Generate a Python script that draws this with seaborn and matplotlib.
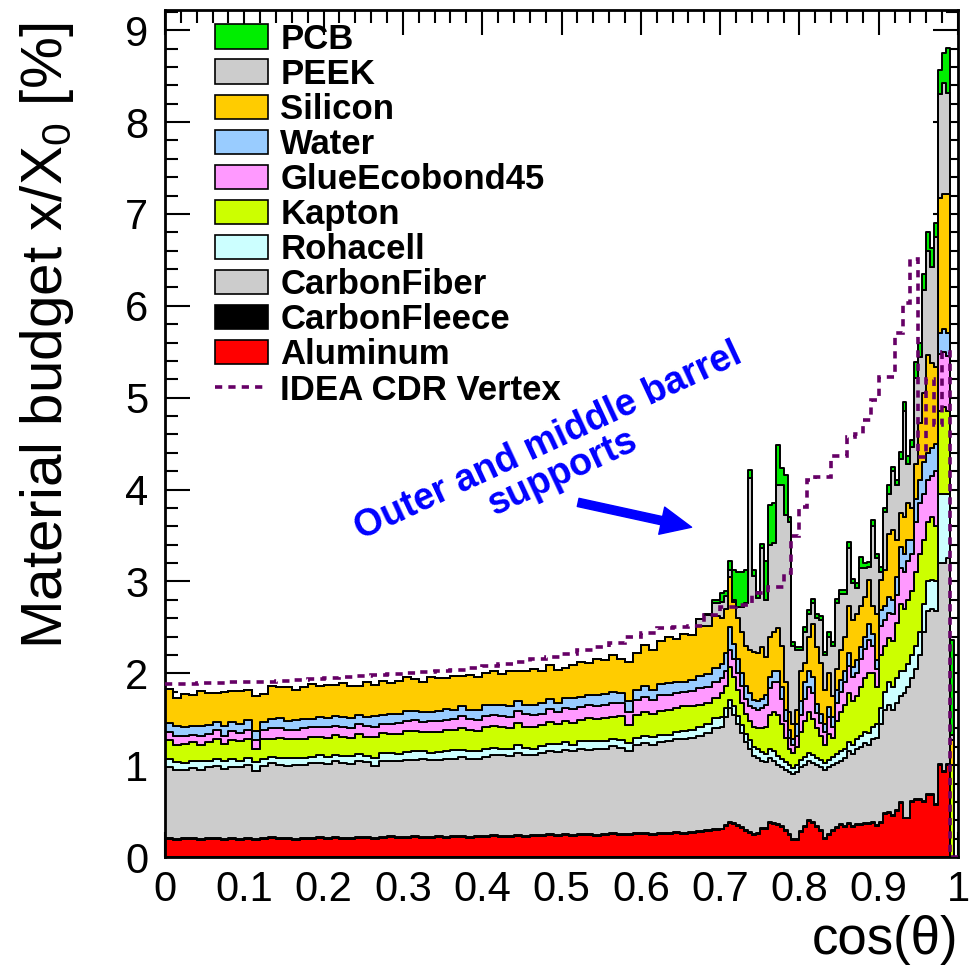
import numpy as np
import pandas as pd
import matplotlib
matplotlib.use("Agg")
import matplotlib.pyplot as plt
import seaborn as sns
from matplotlib.patches import Patch
from matplotlib.lines import Line2D
from matplotlib.ticker import MultipleLocator, FuncFormatter

sns.set_theme(style="ticks")
plt.rcParams['font.family'] = ['Liberation Sans', 'DejaVu Sans']
plt.rcParams['mathtext.default'] = 'regular'
for key in ['text.color', 'axes.labelcolor', 'xtick.color', 'ytick.color', 'axes.edgecolor']:
    plt.rcParams[key] = 'black'

# bins: 0.01 wide up to cos=0.70, 0.005 wide above
edges = np.concatenate([np.linspace(0.0, 0.70, 71)[:-1], np.linspace(0.70, 1.0, 61)])
centers = 0.5 * (edges[:-1] + edges[1:])

# material budget per material (x/X0 in %), one value per bin
aluminum = [
    0.20, 0.19, 0.20, 0.20, 0.19, 0.20, 0.20, 0.19, 0.20, 0.19,
    0.20, 0.19, 0.20, 0.21, 0.20, 0.20, 0.19, 0.20, 0.20, 0.21,
    0.20, 0.21, 0.20, 0.20, 0.21, 0.21, 0.20, 0.21, 0.22, 0.21,
    0.21, 0.22, 0.21, 0.21, 0.22, 0.21, 0.22, 0.22, 0.21, 0.22,
    0.22, 0.23, 0.22, 0.22, 0.23, 0.22, 0.23, 0.23, 0.24, 0.23,
    0.24, 0.23, 0.24, 0.24, 0.23, 0.24, 0.25, 0.24, 0.24, 0.25,
    0.25, 0.24, 0.25, 0.25, 0.26, 0.25, 0.26, 0.27, 0.28, 0.29,
    0.30, 0.34, 0.37, 0.36, 0.34, 0.32, 0.28, 0.26, 0.24, 0.25,
    0.31, 0.31, 0.37, 0.36, 0.35, 0.33, 0.28, 0.24, 0.19, 0.19,
    0.27, 0.33, 0.39, 0.37, 0.33, 0.28, 0.20, 0.24, 0.28, 0.32,
    0.35, 0.33, 0.36, 0.33, 0.35, 0.35, 0.36, 0.36, 0.37, 0.34,
    0.37, 0.47, 0.48, 0.45, 0.50, 0.59, 0.42, 0.42, 0.60, 0.62,
    0.62, 0.60, 0.68, 0.68, 0.57, 1.00, 0.93, 1.00, 0.00, 0.00,
]
carbon_fleece = [
    0.01, 0.01, 0.01, 0.01, 0.01, 0.01, 0.01, 0.01, 0.01, 0.01,
    0.01, 0.01, 0.01, 0.01, 0.01, 0.01, 0.01, 0.01, 0.01, 0.01,
    0.01, 0.01, 0.01, 0.01, 0.01, 0.01, 0.01, 0.01, 0.01, 0.01,
    0.01, 0.01, 0.01, 0.01, 0.01, 0.01, 0.01, 0.01, 0.01, 0.01,
    0.01, 0.01, 0.01, 0.01, 0.01, 0.01, 0.01, 0.01, 0.01, 0.01,
    0.01, 0.01, 0.01, 0.01, 0.01, 0.01, 0.01, 0.01, 0.01, 0.01,
    0.01, 0.01, 0.01, 0.01, 0.01, 0.01, 0.01, 0.01, 0.01, 0.01,
    0.01, 0.01, 0.01, 0.01, 0.01, 0.01, 0.01, 0.01, 0.01, 0.01,
    0.01, 0.01, 0.01, 0.01, 0.01, 0.01, 0.01, 0.01, 0.01, 0.01,
    0.01, 0.01, 0.01, 0.01, 0.01, 0.01, 0.01, 0.01, 0.01, 0.01,
    0.01, 0.01, 0.01, 0.01, 0.01, 0.01, 0.01, 0.01, 0.01, 0.01,
    0.01, 0.01, 0.01, 0.01, 0.01, 0.01, 0.01, 0.01, 0.01, 0.01,
    0.01, 0.01, 0.01, 0.01, 0.01, 0.01, 0.01, 0.01, 0.00, 0.00,
]
carbon_fiber = [
    0.77, 0.75, 0.74, 0.76, 0.75, 0.77, 0.78, 0.76, 0.77, 0.78,
    0.79, 0.74, 0.78, 0.80, 0.79, 0.78, 0.80, 0.79, 0.81, 0.80,
    0.80, 0.82, 0.81, 0.80, 0.82, 0.81, 0.78, 0.83, 0.82, 0.83,
    0.84, 0.83, 0.85, 0.84, 0.83, 0.85, 0.84, 0.86, 0.85, 0.84,
    0.86, 0.87, 0.88, 0.87, 0.89, 0.88, 0.87, 0.89, 0.90, 0.90,
    0.92, 0.91, 0.93, 0.92, 0.94, 0.93, 0.95, 0.94, 0.90, 0.96,
    0.98, 0.97, 0.99, 1.00, 1.01, 1.02, 1.03, 1.04, 1.06, 1.10,
    1.11, 1.17, 1.24, 1.18, 1.10, 1.02, 0.96, 0.91, 0.85, 0.82,
    0.73, 0.71, 0.70, 0.68, 0.64, 0.64, 0.66, 0.67, 0.70, 0.72,
    0.70, 0.66, 0.64, 0.64, 0.66, 0.69, 0.74, 0.73, 0.71, 0.69,
    0.69, 0.74, 0.78, 0.78, 0.82, 0.84, 0.87, 0.85, 0.90, 0.95,
    1.07, 1.12, 1.17, 1.14, 1.17, 1.15, 1.35, 1.42, 1.34, 1.42,
    1.57, 1.84, 1.99, 2.01, 2.10, 2.19, 2.26, 2.24, 0.00, 0.00,
]
rohacell = [
    0.09, 0.08, 0.07, 0.08, 0.09, 0.07, 0.08, 0.08, 0.09, 0.07,
    0.08, 0.09, 0.08, 0.07, 0.08, 0.09, 0.08, 0.08, 0.07, 0.09,
    0.08, 0.07, 0.08, 0.09, 0.08, 0.07, 0.09, 0.08, 0.08, 0.07,
    0.08, 0.09, 0.08, 0.07, 0.08, 0.08, 0.09, 0.07, 0.08, 0.08,
    0.09, 0.08, 0.07, 0.08, 0.09, 0.08, 0.07, 0.08, 0.08, 0.09,
    0.08, 0.07, 0.08, 0.09, 0.08, 0.08, 0.07, 0.08, 0.09, 0.08,
    0.08, 0.09, 0.08, 0.07, 0.08, 0.09, 0.08, 0.09, 0.10, 0.11,
    0.10, 0.10, 0.09, 0.09, 0.09, 0.09, 0.09, 0.09, 0.10, 0.10,
    0.09, 0.09, 0.10, 0.10, 0.10, 0.09, 0.08, 0.08, 0.07, 0.08,
    0.08, 0.09, 0.09, 0.09, 0.08, 0.08, 0.07, 0.08, 0.09, 0.10,
    0.10, 0.10, 0.10, 0.10, 0.10, 0.12, 0.12, 0.13, 0.14, 0.15,
    0.17, 0.20, 0.24, 0.25, 0.27, 0.27, 0.24, 0.25, 0.25, 0.25,
    0.25, 0.30, 0.32, 0.32, 0.32, 0.75, 0.75, 0.70, 0.00, 0.00,
]
kapton = [
    0.20, 0.19, 0.21, 0.20, 0.18, 0.20, 0.21, 0.19, 0.20, 0.21,
    0.20, 0.15, 0.21, 0.20, 0.22, 0.21, 0.20, 0.21, 0.22, 0.20,
    0.21, 0.22, 0.21, 0.20, 0.22, 0.21, 0.23, 0.22, 0.21, 0.22,
    0.23, 0.22, 0.21, 0.23, 0.22, 0.23, 0.22, 0.24, 0.23, 0.22,
    0.23, 0.24, 0.23, 0.22, 0.24, 0.23, 0.24, 0.23, 0.24, 0.22,
    0.23, 0.24, 0.23, 0.25, 0.24, 0.25, 0.24, 0.26, 0.20, 0.25,
    0.26, 0.25, 0.26, 0.27, 0.26, 0.27, 0.26, 0.25, 0.23, 0.22,
    0.26, 0.24, 0.36, 0.32, 0.28, 0.24, 0.22, 0.21, 0.22, 0.22,
    0.26, 0.30, 0.37, 0.43, 0.45, 0.38, 0.27, 0.18, 0.16, 0.20,
    0.30, 0.39, 0.45, 0.39, 0.32, 0.26, 0.20, 0.28, 0.21, 0.36,
    0.43, 0.47, 0.53, 0.48, 0.47, 0.53, 0.59, 0.65, 0.58, 0.40,
    0.58, 0.50, 0.48, 0.50, 0.60, 0.73, 0.68, 0.70, 0.70, 0.80,
    0.85, 0.70, 0.65, 0.68, 0.60, 0.91, 0.95, 0.90, 1.00, 0.00,
]
glue = [
    0.09, 0.10, 0.09, 0.08, 0.10, 0.09, 0.10, 0.09, 0.10, 0.09,
    0.10, 0.09, 0.10, 0.11, 0.10, 0.09, 0.10, 0.11, 0.10, 0.10,
    0.11, 0.10, 0.11, 0.10, 0.11, 0.12, 0.11, 0.10, 0.11, 0.12,
    0.11, 0.12, 0.11, 0.12, 0.12, 0.11, 0.12, 0.13, 0.12, 0.12,
    0.13, 0.12, 0.13, 0.12, 0.13, 0.14, 0.13, 0.12, 0.14, 0.13,
    0.14, 0.15, 0.14, 0.15, 0.14, 0.15, 0.16, 0.15, 0.14, 0.16,
    0.16, 0.15, 0.17, 0.16, 0.17, 0.16, 0.17, 0.18, 0.17, 0.18,
    0.17, 0.17, 0.18, 0.19, 0.18, 0.18, 0.16, 0.16, 0.20, 0.20,
    0.22, 0.24, 0.29, 0.32, 0.35, 0.27, 0.18, 0.12, 0.09, 0.12,
    0.19, 0.24, 0.27, 0.28, 0.17, 0.14, 0.14, 0.18, 0.12, 0.20,
    0.22, 0.25, 0.30, 0.26, 0.25, 0.30, 0.31, 0.36, 0.30, 0.20,
    0.32, 0.28, 0.28, 0.29, 0.30, 0.40, 0.40, 0.42, 0.40, 0.55,
    0.55, 0.50, 0.45, 0.45, 0.60, 0.62, 0.60, 0.60, 0.00, 0.00,
]
water = [
    0.10, 0.11, 0.09, 0.10, 0.11, 0.10, 0.09, 0.11, 0.10, 0.10,
    0.11, 0.10, 0.09, 0.10, 0.11, 0.10, 0.11, 0.10, 0.09, 0.11,
    0.10, 0.11, 0.10, 0.11, 0.10, 0.09, 0.11, 0.10, 0.11, 0.10,
    0.11, 0.10, 0.11, 0.10, 0.11, 0.12, 0.10, 0.11, 0.10, 0.11,
    0.11, 0.10, 0.11, 0.12, 0.11, 0.10, 0.11, 0.12, 0.11, 0.10,
    0.11, 0.12, 0.11, 0.10, 0.12, 0.11, 0.12, 0.11, 0.12, 0.11,
    0.12, 0.11, 0.12, 0.13, 0.12, 0.11, 0.12, 0.13, 0.14, 0.15,
    0.15, 0.19, 0.25, 0.17, 0.15, 0.14, 0.14, 0.14, 0.09, 0.10,
    0.10, 0.10, 0.12, 0.13, 0.13, 0.13, 0.12, 0.08, 0.07, 0.13,
    0.15, 0.18, 0.18, 0.18, 0.10, 0.10, 0.09, 0.11, 0.10, 0.14,
    0.13, 0.13, 0.14, 0.11, 0.14, 0.14, 0.14, 0.18, 0.13, 0.09,
    0.17, 0.15, 0.17, 0.16, 0.20, 0.22, 0.20, 0.23, 0.15, 0.25,
    0.25, 0.35, 0.30, 0.30, 0.30, 0.22, 0.25, 0.25, 0.00, 0.00,
]
silicon = [
    0.37, 0.30, 0.36, 0.33, 0.38, 0.35, 0.32, 0.37, 0.34, 0.36,
    0.33, 0.38, 0.30, 0.36, 0.34, 0.37, 0.33, 0.35, 0.38, 0.34,
    0.36, 0.33, 0.37, 0.35, 0.31, 0.38, 0.34, 0.37, 0.33, 0.36,
    0.37, 0.35, 0.33, 0.38, 0.36, 0.34, 0.37, 0.33, 0.38, 0.36,
    0.35, 0.37, 0.34, 0.38, 0.33, 0.36, 0.39, 0.35, 0.37, 0.36,
    0.33, 0.36, 0.38, 0.35, 0.39, 0.37, 0.40, 0.36, 0.42, 0.40,
    0.45, 0.43, 0.47, 0.50, 0.46, 0.52, 0.49, 0.54, 0.52, 0.56,
    0.50, 0.48, 0.55, 0.46, 0.45, 0.45, 0.44, 0.47, 0.52, 0.52,
    0.57, 0.42, 0.44, 0.42, 0.46, 0.45, 0.30, 0.20, 0.16, 0.15,
    0.33, 0.21, 0.37, 0.58, 0.62, 0.55, 0.37, 0.37, 0.23, 0.23,
    0.32, 0.37, 0.51, 0.51, 0.51, 0.44, 0.43, 0.47, 0.30, 0.51,
    0.32, 0.39, 0.69, 0.76, 0.40, 0.38, 0.40, 0.40, 0.35, 0.38,
    0.62, 0.75, 1.06, 0.93, 0.83, 1.47, 1.47, 1.52, 0.27, 0.00,
]
peek = [
    0.00, 0.00, 0.00, 0.00, 0.00, 0.00, 0.00, 0.00, 0.00, 0.00,
    0.00, 0.00, 0.00, 0.00, 0.00, 0.00, 0.00, 0.00, 0.00, 0.00,
    0.00, 0.00, 0.00, 0.00, 0.00, 0.00, 0.00, 0.00, 0.00, 0.00,
    0.00, 0.00, 0.00, 0.00, 0.00, 0.00, 0.00, 0.00, 0.00, 0.00,
    0.00, 0.00, 0.00, 0.00, 0.00, 0.00, 0.00, 0.00, 0.00, 0.00,
    0.00, 0.00, 0.00, 0.00, 0.00, 0.00, 0.00, 0.00, 0.00, 0.00,
    0.00, 0.00, 0.00, 0.00, 0.00, 0.00, 0.00, 0.08, 0.12, 0.15,
    0.18, 0.14, 0.07, 0.02, 0.12, 0.27, 0.46, 1.88, 0.83, 0.60,
    1.07, 0.62, 1.00, 0.97, 1.56, 1.75, 1.82, 2.07, 0.85, 0.65,
    0.22, 0.34, 0.24, 0.22, 0.31, 0.47, 0.38, 0.40, 0.55, 0.71,
    0.61, 0.46, 0.63, 0.40, 0.28, 0.42, 0.32, 0.15, 0.87, 0.60,
    0.09, 0.64, 0.43, 0.64, 0.60, 0.58, 1.15, 0.43, 0.66, 0.93,
    0.72, 1.12, 1.14, 1.04, 1.42, 1.14, 1.21, 1.10, 0.06, 0.00,
]
pcb = [
    0.00, 0.00, 0.00, 0.00, 0.00, 0.00, 0.00, 0.00, 0.00, 0.00,
    0.00, 0.00, 0.00, 0.00, 0.00, 0.00, 0.00, 0.00, 0.00, 0.00,
    0.00, 0.00, 0.00, 0.00, 0.00, 0.00, 0.00, 0.00, 0.00, 0.00,
    0.00, 0.00, 0.00, 0.00, 0.00, 0.00, 0.00, 0.00, 0.00, 0.00,
    0.00, 0.00, 0.00, 0.00, 0.00, 0.00, 0.00, 0.00, 0.00, 0.00,
    0.00, 0.00, 0.00, 0.00, 0.00, 0.00, 0.00, 0.00, 0.00, 0.00,
    0.00, 0.00, 0.00, 0.00, 0.00, 0.00, 0.00, 0.00, 0.02, 0.03,
    0.09, 0.06, 0.10, 0.32, 0.38, 0.38, 0.36, 0.08, 0.06, 0.06,
    0.05, 0.42, 0.43, 0.43, 0.43, 0.18, 0.44, 0.05, 0.04, 0.04,
    0.04, 0.05, 0.05, 0.05, 0.05, 0.04, 0.03, 0.05, 0.04, 0.05,
    0.05, 0.05, 0.07, 0.05, 0.05, 0.12, 0.05, 0.05, 0.07, 0.05,
    0.06, 0.04, 0.10, 0.05, 0.05, 0.08, 0.10, 0.08, 0.08, 0.18,
    0.16, 0.18, 0.20, 0.21, 0.15, 0.26, 0.32, 0.49, 1.03, 0.00,
]

# IDEA CDR vertex reference (coarser bins)
idea_edges = np.concatenate([np.linspace(0.0, 0.78, 40), np.linspace(0.78, 1.0, 23)[1:]])
idea_vertex = [
    1.88, 1.88, 1.89, 1.89, 1.90, 1.90, 1.91, 1.92, 1.93, 1.94,
    1.95, 1.96, 1.97, 1.98, 1.99, 2.00, 2.01, 2.03, 2.04, 2.06,
    2.08, 2.10, 2.12, 2.15, 2.18, 2.21, 2.25, 2.29, 2.33, 2.40,
    2.44, 2.49, 2.50, 2.52, 2.63, 2.72, 2.74, 2.87, 2.94,
    3.09, 3.49, 3.81, 4.10, 4.14, 4.14, 4.36, 4.36, 4.57, 4.61,
    4.76, 4.97, 5.23, 5.23, 5.70, 6.03, 6.51, 4.35, 5.20, 4.70,
    5.50, 0.00,
]

# legend / stacking order, top to bottom
materials = ["PCB", "PEEK", "Silicon", "Water", "GlueEcobond45", "Kapton",
             "Rohacell", "CarbonFiber", "CarbonFleece", "Aluminum"]
series = [pcb, peek, silicon, water, glue, kapton, rohacell,
          carbon_fiber, carbon_fleece, aluminum]
colors = {"PCB": "#00ee00", "PEEK": "#cccccc", "Silicon": "#ffcc00",
          "Water": "#99ccff", "GlueEcobond45": "#ff99ff", "Kapton": "#ccff00",
          "Rohacell": "#ccffff", "CarbonFiber": "#cccccc",
          "CarbonFleece": "#000000", "Aluminum": "#ff0000"}
idea_color = "#660066"
idea_dash = (0, (2.0, 1.7))

df = pd.concat([pd.DataFrame({"cos": centers, "budget": vals, "material": name})
                for name, vals in zip(materials, series)], ignore_index=True)

fig = plt.figure(figsize=(9.73, 9.8), dpi=100)
ax = fig.add_axes([0.1696, 0.1255, 0.815, 0.8643])

sns.histplot(data=df, x="cos", weights="budget", hue="material", hue_order=materials,
             multiple="stack", element="step", bins=edges.tolist(), palette=colors, alpha=1,
             edgecolor="black", linewidth=1.4, legend=False, ax=ax)

ax.stairs(idea_vertex, idea_edges, baseline=None, color=idea_color,
          linestyle=idea_dash, linewidth=2.6, zorder=5)

# annotation
ax.text(0.492, 4.35, "Outer and middle barrel\nsupports", color="#0000ff", fontsize=27,
        fontweight="bold", rotation=25, ha="center", va="center", rotation_mode="anchor",
        multialignment="center", linespacing=0.95)
ax.annotate("", xy=(0.664, 3.59), xytext=(0.521, 3.86),
            arrowprops=dict(facecolor="#0000ff", edgecolor="#0000ff", width=6,
                            headwidth=20, headlength=22, shrink=0))

# axes styling (ROOT look)
ax.set_xlim(0, 1)
ax.set_ylim(0, 9.22)
ax.xaxis.set_major_locator(MultipleLocator(0.1))
ax.xaxis.set_minor_locator(MultipleLocator(0.02))
ax.yaxis.set_major_locator(MultipleLocator(1))
ax.yaxis.set_minor_locator(MultipleLocator(0.2))
ax.xaxis.set_major_formatter(FuncFormatter(lambda v, _: f"{round(v, 2):g}"))
ax.yaxis.set_major_formatter(FuncFormatter(lambda v, _: f"{round(v):g}"))
ax.tick_params(which="both", direction="in", top=True, right=True, width=1.5,
               colors="black", labelsize=30)
ax.tick_params(which="major", length=18)
ax.tick_params(which="minor", length=9)
ax.tick_params(axis="y", pad=12)
ax.tick_params(axis="x", pad=9)
for s in ax.spines.values():
    s.set_linewidth(2)
    s.set_color("black")
ax.set_xlabel("cos(θ)", fontsize=38, ha="right", va="top")
ax.xaxis.set_label_coords(1.0, -0.068)
ax.set_ylabel("Material budget x/X$_0$ [%]", fontsize=42, ha="right", va="bottom")
ax.yaxis.set_label_coords(-0.112, 0.985)

handles = [Patch(facecolor=colors[m], edgecolor="black", linewidth=1.2) for m in materials]
handles.append(Line2D([0], [0], color=idea_color, linestyle=idea_dash, linewidth=2.6))
labels = materials + ["IDEA CDR Vertex"]
ax.legend(handles, labels, loc="upper left", bbox_to_anchor=(0.063, 0.985), frameon=False,
          prop={"weight": "bold", "size": 25}, labelcolor="black",
          handlelength=1.53, handleheight=0.7, handletextpad=0.35, labelspacing=0.06,
          borderpad=0, borderaxespad=0)

fig.savefig("out.png", dpi=100)
